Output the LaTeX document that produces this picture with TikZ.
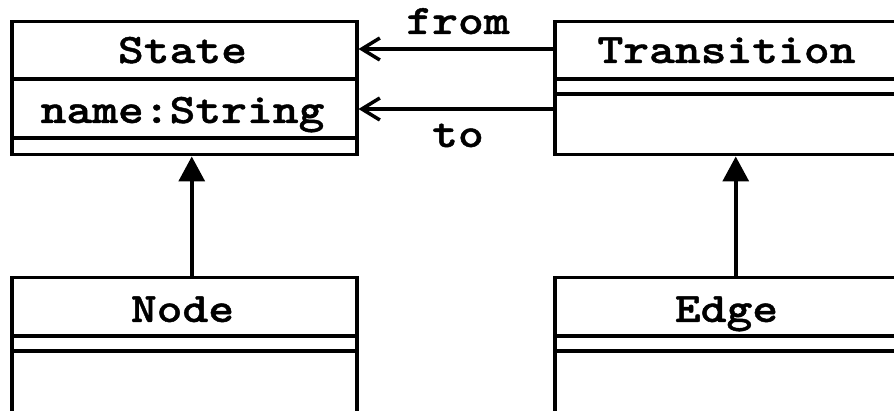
\documentclass[tikz,border=0pt]{standalone}
\usepackage{fontspec}
\usetikzlibrary{arrows.meta}
% heavy typewriter face for class names, attributes and role labels
\newfontfamily\umlfont[FakeStretch=1.17,FakeBold=1]{lmmonolt10-bold.otf}
\begin{document}
\begin{tikzpicture}[x=1pt,y=-1pt,line width=3.5pt,
  classbox/.style={draw,rectangle,inner sep=0pt,anchor=north west},
  label/.style={font=\umlfont\fontsize{42}{50}\selectfont,inner sep=0pt,anchor=base},
  assoc/.style={-{Straight Barb[length=18pt,width=22pt,line width=3.5pt]}},
  inherit/.style={-{Triangle[length=25pt,width=26pt]}}]
\useasboundingbox (0,0) rectangle (894,411);
% class boxes
\node[classbox,minimum width=345pt,minimum height=133pt] (State) at (10,20) {};
\node[classbox,minimum width=347pt,minimum height=133pt] (Transition) at (553,20) {};
\node[classbox,minimum width=345pt,minimum height=160pt] (Node) at (10,276) {};
\node[classbox,minimum width=347pt,minimum height=160pt] (Edge) at (553,276) {};
% compartment separators
\draw (State.west |- 0,79) -- (State.east |- 0,79);
\draw (State.west |- 0,138) -- (State.east |- 0,138);
\draw (Transition.west |- 0,79) -- (Transition.east |- 0,79);
\draw (Transition.west |- 0,94) -- (Transition.east |- 0,94);
\draw (Node.west |- 0,336) -- (Node.east |- 0,336);
\draw (Node.west |- 0,351) -- (Node.east |- 0,351);
\draw (Edge.west |- 0,336) -- (Edge.east |- 0,336);
\draw (Edge.west |- 0,351) -- (Edge.east |- 0,351);
% class names and attributes
\node[label] (stateName) at (182.5,63) {State};
\node[label] (stateAttr) at (182.5,123) {name:String};
\node[label] (transName) at (726.5,63) {Transition};
\node[label] (nodeName) at (182.5,322) {Node};
\node[label] (edgeName) at (726.5,322) {Edge};
% associations
\coordinate (fromY) at (0,49);
\coordinate (toY) at (0,109);
\draw[assoc] (Transition.west |- fromY) -- (State.east |- fromY);
\draw[assoc] (Transition.west |- toY) -- (State.east |- toY);
\node[label] (fromLbl) at (458,34) {from};
\node[label] (toLbl) at (458,147) {to};
% generalisations
\draw[inherit] ([xshift=7.5pt]Node.north) -- ([xshift=7.5pt]State.south);
\draw[inherit] ([xshift=7.5pt]Edge.north) -- ([xshift=7.5pt]Transition.south);
\end{tikzpicture}
\end{document}
